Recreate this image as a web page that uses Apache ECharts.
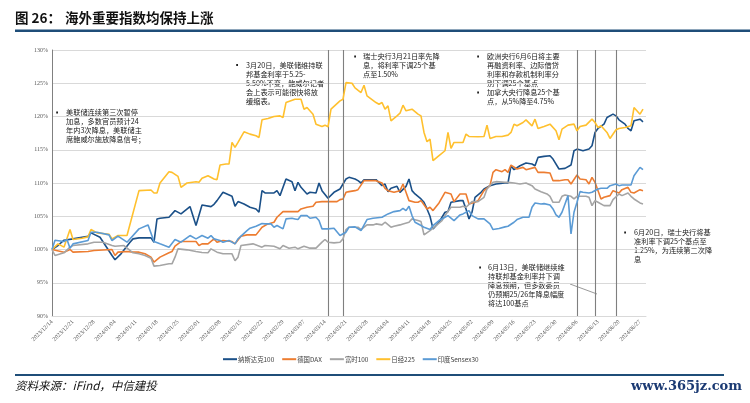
<!DOCTYPE html>
<html><head><meta charset="utf-8">
<script src="https://cdn.jsdelivr.net/npm/echarts@6/dist/echarts.min.js"></script>
<style>html,body{margin:0;padding:0;background:#fff}#c{width:750px;height:403px}</style>
</head><body><div id="c"></div>
<script>
// ---- data ----
const startDate = '2023-12-14';
const endDate = '2024-06-29';
const seriesNames = ['纳斯达克100', '德国DAX', '富时100', '日经225', '印度Sensex30'];
const seriesColors = ['#1B5088', '#ED7D31', '#A5A5A5', '#FFC02E', '#5B9BD5'];
const yMin = 90, yMax = 130, yStep = 5;
const eventDays = [92, 97, 175, 181, 188];

// day offsets from 2023/12/14 and index levels (%)
const nasdaqDays = [0,2,4,7,12,13,16,20,21,23,26,27,29,33,34,35,36,39,41,43,46,48,50,53,54,55,57,60,61,62,64,66,68,69,70,71,74,75,76,78,80,81,82,83,85,86,88,89,90,92,94,96,98,99,101,102,103,104,106,108,110,111,112,113,115,116,118,119,120,121,123,124,125,126,127,129,130,131,132,133,136,137,138,139,140,141,143,144,146,148,151,152,153,154,156,158,160,161,162,164,166,167,169,171,173,174,175,177,179,180,181,182,184,185,187,188,189,191,192,193,194,196,197];
const nasdaqVals = [100,100.6,101.4,101.6,102.0,102.5,101.85,99.1,98.45,99.35,101.1,101.6,101.75,101.75,101.1,104.6,104.7,104.85,105.85,105.35,106.45,103.6,106.7,106.45,106.8,107.35,108.6,108.0,106.5,107.2,106.85,106.35,106.1,105.6,108.85,108.5,108.5,108.85,108.1,110.6,110.2,108.85,110.1,109.35,108.35,108.6,108.5,110.0,108.85,107.7,108.6,109.1,110.6,110.85,110.6,110.35,110.0,110.5,110.5,110.5,109.6,109.85,108.7,109.2,109.5,108.6,109.5,110.6,108.85,108.35,107.6,107.1,106.1,105.0,103.1,104.1,104.85,105.6,105.7,107.1,107.35,107.35,106.1,104.6,105.6,107.85,108.6,109.1,109.6,109.85,110.0,110.0,112.6,112.0,112.6,113.0,112.85,112.6,113.85,114.0,114.1,113.6,112.1,112.2,112.7,114.85,115.1,114.85,115.1,115.6,117.6,118.2,118.85,119.85,120.35,120.1,119.5,118.85,118.2,117.85,119.35,119.6,119.2];

const daxDays = [0,4,6,7,12,14,20,21,22,25,27,29,31,33,34,36,39,40,41,43,45,48,49,50,52,54,55,57,60,61,63,65,68,70,72,74,75,77,80,82,83,85,87,88,90,92,95,96,97,98,99,101,102,104,106,108,110,111,112,114,116,117,118,119,121,122,123,125,126,127,129,131,133,134,136,138,139,141,142,144,146,147,148,150,151,152,153,155,157,158,161,162,164,166,167,169,171,172,173,175,176,178,179,180,181,183,184,186,187,189,190,192,193,194,196,197];
const daxVals = [100,99.6,100,99.6,99.7,99.85,100,99.1,99.6,99.7,99.6,99.6,99.35,98.85,98.1,98.85,99.5,99.7,100.5,101.2,101.2,101.2,100.6,100.85,100.85,101.6,101.1,101.35,101.2,100.85,102.0,102.2,102.2,103.35,103.85,104.1,104.85,105.7,105.7,105.7,106.1,106.35,106.5,107.1,107.2,107.2,107.2,107.5,107.6,108.6,108.7,108.85,109.0,110.35,110.35,110.35,110.0,109.2,108.85,108.6,108.85,109.85,108.6,107.35,107.1,107.1,107.35,106.1,106.35,105.85,107.0,108.6,108.35,107.2,108.35,108.35,106.85,107.1,107.35,108.85,109.6,111.6,112.0,111.7,112.0,111.6,112.7,112.1,112.35,112.0,112.35,111.6,111.6,111.5,110.35,110.35,110.5,110.5,109.85,111.2,110.6,110.5,109.85,110.85,110.1,107.6,107.85,108.1,108.85,108.5,109.0,109.35,108.6,108.5,109.0,108.85];

const ftseDays = [0,1,4,6,7,12,14,17,20,21,24,27,29,31,33,34,36,39,40,41,42,45,48,50,52,53,55,57,60,61,62,63,67,70,71,74,76,77,79,81,82,84,86,88,90,91,92,94,96,97,98,99,102,103,105,107,108,110,111,113,114,116,117,119,120,122,123,124,126,128,130,131,133,136,137,138,140,142,144,145,147,148,151,152,154,156,158,160,161,163,165,166,167,169,170,171,173,174,175,178,179,180,181,182,184,186,187,189,190,192,193,194,196,197];
const ftseVals = [100,99.1,99.5,100.35,100.6,100.85,101.1,101.1,100.6,100.5,100.6,99.5,99.35,99.1,98.7,97.5,97.6,97.85,97.85,98.85,100.1,99.95,99.7,99.55,99.5,100.1,99.6,99.35,99.35,98.3,98.85,100.6,100.85,100.35,100.6,100.5,100.1,100.6,100.2,100.35,100.1,100.5,100.2,100.2,101.1,101.5,101.1,101.0,101.1,101.6,103.0,103.35,103.35,103.0,103.7,103.7,103.85,103.7,104.1,103.35,103.5,103.7,103.85,104.1,104.6,104.35,104.2,102.2,102.85,103.6,104.35,105.1,106.35,106.35,106.5,106.35,107.2,107.2,107.85,109.1,110.1,110.2,110.1,110.1,110.0,109.85,110.0,109.6,109.1,108.7,108.35,108.0,107.1,107.1,108.0,108.2,108.0,107.6,108.0,108.0,107.85,106.6,107.35,107.1,106.6,106.6,107.5,108.35,108.1,108.5,108.0,107.6,107.0,106.85];

const nikkeiDays = [0,2,4,6,7,10,12,13,15,19,20,22,25,29,33,34,35,36,39,40,42,43,45,48,49,50,52,54,55,56,58,59,60,61,62,64,66,68,69,70,72,74,76,77,78,81,83,84,85,87,88,90,91,92,93,96,97,98,100,101,103,104,105,108,109,110,111,112,113,115,116,117,118,120,122,123,124,125,126,127,129,131,132,133,134,137,138,139,142,144,145,146,148,150,152,153,154,155,157,158,160,161,162,164,166,168,169,170,172,174,175,176,178,180,181,182,183,185,186,188,189,191,193,194,196,197];
const nikkeiVals = [100,100.85,100.35,103.0,101.5,101.7,101.9,103.0,102.5,102.3,101.6,102.1,102.1,108.85,108.95,108.5,108.5,110.0,111.7,111.6,111.0,109.35,110.0,110.2,110.1,110.7,111.1,110.6,110.5,112.7,112.85,112.85,116.1,115.35,116.1,117.7,117.35,117.1,116.85,119.5,119.7,120.0,120.1,119.85,122.1,122.6,122.6,121.1,121.35,120.35,118.85,118.5,118.7,118.45,121.1,122.35,122.6,125.1,125.0,124.3,123.6,124.7,123.1,122.1,121.85,122.1,121.1,121.6,119.35,120.1,120.5,121.7,120.85,121.1,120.35,120.1,117.6,116.2,116.6,113.35,114.1,114.85,117.6,115.2,116.1,116.1,117.35,117.0,116.95,117.0,118.7,116.7,117.0,117.0,117.2,117.6,118.85,118.6,119.1,119.5,118.6,119.6,118.2,118.5,118.85,117.85,116.5,118.1,118.7,118.85,117.85,118.5,118.7,119.6,119.1,118.35,118.6,117.6,116.7,118.0,118.2,118.35,118.6,121.35,120.35,121.1];

const sensexDays = [0,1,4,5,6,7,12,13,15,19,20,22,25,29,32,34,36,39,41,43,46,48,50,52,53,54,56,57,59,61,62,65,66,68,70,71,73,74,75,77,78,80,81,82,83,85,86,88,89,90,92,94,96,98,99,101,103,105,107,110,112,114,116,117,118,119,120,121,123,124,126,127,129,131,132,134,136,137,139,140,142,144,146,147,149,151,152,154,155,157,159,160,161,163,164,166,167,168,169,170,171,172,173,174,175,176,177,179,180,182,183,185,186,188,189,190,192,193,194,196,197];
const sensexVals = [100,101.4,101.2,101.5,100.2,100.85,101.35,102.6,102.6,102.2,101.35,102.0,101.1,103.1,103.7,101.2,100.85,100.35,101.5,101.1,102.1,101.6,102.1,101.7,102.1,101.6,101.35,101.1,101.35,100.85,101.6,102.85,103.2,103.5,103.9,103.85,103.85,103.35,103.6,103.1,104.6,104.7,104.6,104.5,105.1,105.1,104.7,104.85,104.35,103.1,103.1,103.2,102.1,102.6,103.35,103.4,102.85,104.5,104.7,104.85,105.35,105.7,105.85,106.2,105.85,106.5,105.1,104.1,103.6,103.35,103.0,103.6,104.35,104.85,105.1,104.35,105.2,105.35,105.85,105.1,104.6,104.6,103.85,103.0,103.15,103.4,103.5,104.1,104.5,104.85,104.85,106.35,107.0,106.85,106.9,106.7,106.1,105.2,104.85,105.6,106.85,108.1,102.35,105.6,107.1,108.7,108.6,108.5,108.6,109.1,109.2,109.2,109.6,109.85,109.6,109.7,109.7,109.7,111.1,112.35,112.0];

// annotation texts
const notes = [
  {bx: 57, tx: 66, ty: 108, text: '美联储连续第三次暂停\n加息，多数官员预计24\n年内3次降息，美联储主\n席鲍威尔施放降息信号；', bullets: [0]},
  {bx: 237, tx: 246, ty: 60.5, text: '3月20日，美联储维持联\n邦基金利率于5.25-\n5.50%不变，鲍威尔记者\n会上表示可能很快将放\n缓缩表。', bullets: [0]},
  {bx: 355, tx: 363, ty: 52, text: '瑞士央行3月21日率先降\n息，将利率下调25个基\n点至1.50%', bullets: [0]},
  {bx: 478, tx: 487, ty: 52, text: '欧洲央行6月6日将主要\n再融资利率、边际借贷\n利率和存款机制利率分\n别下调25个基点\n加拿大央行降息25个基\n点，从5%降至4.75%', bullets: [0, 4]},
  {bx: 625, tx: 634, ty: 228, text: '6月20日，瑞士央行将基\n准利率下调25个基点至\n1.25%，为连续第二次降\n息', bullets: [0]},
  {bx: 480, tx: 488, ty: 263, text: '6月13日，美联储继续维\n持联邦基金利率并下调\n降息预期，但多数委员\n仍预期25/26年降息幅度\n将达100基点', bullets: [0]}
];

// ---- build ----
function buildDates(s, e) {
  const out = [];
  const p = s.split('-').map(Number), q = e.split('-').map(Number);
  let t = Date.UTC(p[0], p[1] - 1, p[2]);
  const end = Date.UTC(q[0], q[1] - 1, q[2]);
  while (t <= end) {
    const d = new Date(t);
    const mm = String(d.getUTCMonth() + 1).padStart(2, '0');
    const dd = String(d.getUTCDate()).padStart(2, '0');
    out.push(d.getUTCFullYear() + '/' + mm + '/' + dd);
    t += 86400000;
  }
  return out;
}
const categories = buildDates(startDate, endDate);
const pairs = (days, vals) => days.map((d, i) => [d, vals[i]]);
const seriesData = [
  pairs(nasdaqDays, nasdaqVals),
  pairs(daxDays, daxVals),
  pairs(ftseDays, ftseVals),
  pairs(nikkeiDays, nikkeiVals),
  pairs(sensexDays, sensexVals)
];

const CJK = '"Noto Sans CJK SC", sans-serif';
const series = seriesNames.map((name, i) => ({
  name, type: 'line', data: seriesData[i], showSymbol: false, symbol: 'none',
  lineStyle: {width: 1.6, color: seriesColors[i]}, itemStyle: {color: seriesColors[i]},
  z: 3 + i, animation: false
}));
series[0].markLine = {
  symbol: 'none', silent: true, animation: false,
  label: {show: false},
  lineStyle: {color: '#7F7F7F', width: 1.1, type: 'solid'},
  data: eventDays.map(d => ({xAxis: categories[d]}))
};

const graphics = [
  {type: 'text', left: 15, top: 11, style: {text: '图 26：', font: 'bold 13.5px ' + CJK, fill: '#111'}},
  {type: 'text', left: 65, top: 11, style: {text: '海外重要指数均保持上涨', font: 'bold 13.5px ' + CJK, fill: '#111'}},
  {type: 'rect', shape: {x: 15, y: 29.5, width: 735, height: 2.4}, style: {fill: '#1F4E79'}},
  {type: 'rect', shape: {x: 15, y: 374, width: 709, height: 2}, style: {fill: '#1F4E79'}},
  {type: 'text', left: 15, top: 380, style: {text: '资料来源：iFind，中信建投', font: 'italic 11.5px ' + CJK, fill: '#111'}},
  {type: 'text', right: 8, top: 380, style: {text: 'www.365jz.com', font: 'bold 13px "DejaVu Serif", serif', fill: '#1B3A73'}},
  {type: 'line', shape: {x1: 570, y1: 284, x2: 597, y2: 294}, style: {stroke: '#7F7F7F', lineWidth: 0.8}}
];
notes.forEach(n => {
  graphics.push({type: 'text', x: n.tx, y: n.ty, style: {text: n.text, font: '7.2px ' + CJK, fill: '#222', lineHeight: 9, textVerticalAlign: 'top', verticalAlign: 'top'}});
  n.bullets.forEach(b => {
    graphics.push({type: 'rect', shape: {x: n.bx - 0.8, y: n.ty + b * 9 + 3.6, width: 1.8, height: 1.8}, style: {fill: '#222'}});
  });
});

const chart = echarts.init(document.getElementById('c'), null, {renderer: 'canvas'});
chart.setOption({
  animation: false,
  backgroundColor: '#fff',
  grid: {left: 52, top: 50, width: 594, height: 266, containLabel: false},
  legend: {
    data: seriesNames, left: 218, top: 351, icon: 'rect', itemWidth: 14, itemHeight: 2, itemGap: 8,
    textStyle: {fontSize: 6.4, fontFamily: CJK, color: '#404040', padding: [0, 0, 0, -4]}
  },
  xAxis: {
    type: 'category', data: categories, boundaryGap: false,
    axisLine: {show: true, lineStyle: {color: '#D9D9D9'}},
    axisTick: {show: false},
    splitLine: {show: false},
    axisLabel: {interval: 6, rotate: 45, fontSize: 6, fontFamily: '"Liberation Serif", serif', color: '#595959', margin: 5}
  },
  yAxis: {
    type: 'value', min: yMin, max: yMax, interval: yStep,
    axisLine: {show: true, lineStyle: {color: '#808080', width: 1}},
    axisTick: {show: false},
    splitLine: {show: true, lineStyle: {color: '#D9D9D9', width: 1}},
    axisLabel: {formatter: '{value}%', fontSize: 6, fontFamily: '"Liberation Serif", serif', color: '#595959', margin: 4}
  },
  series,
  graphic: graphics
});
</script>
</body></html>
